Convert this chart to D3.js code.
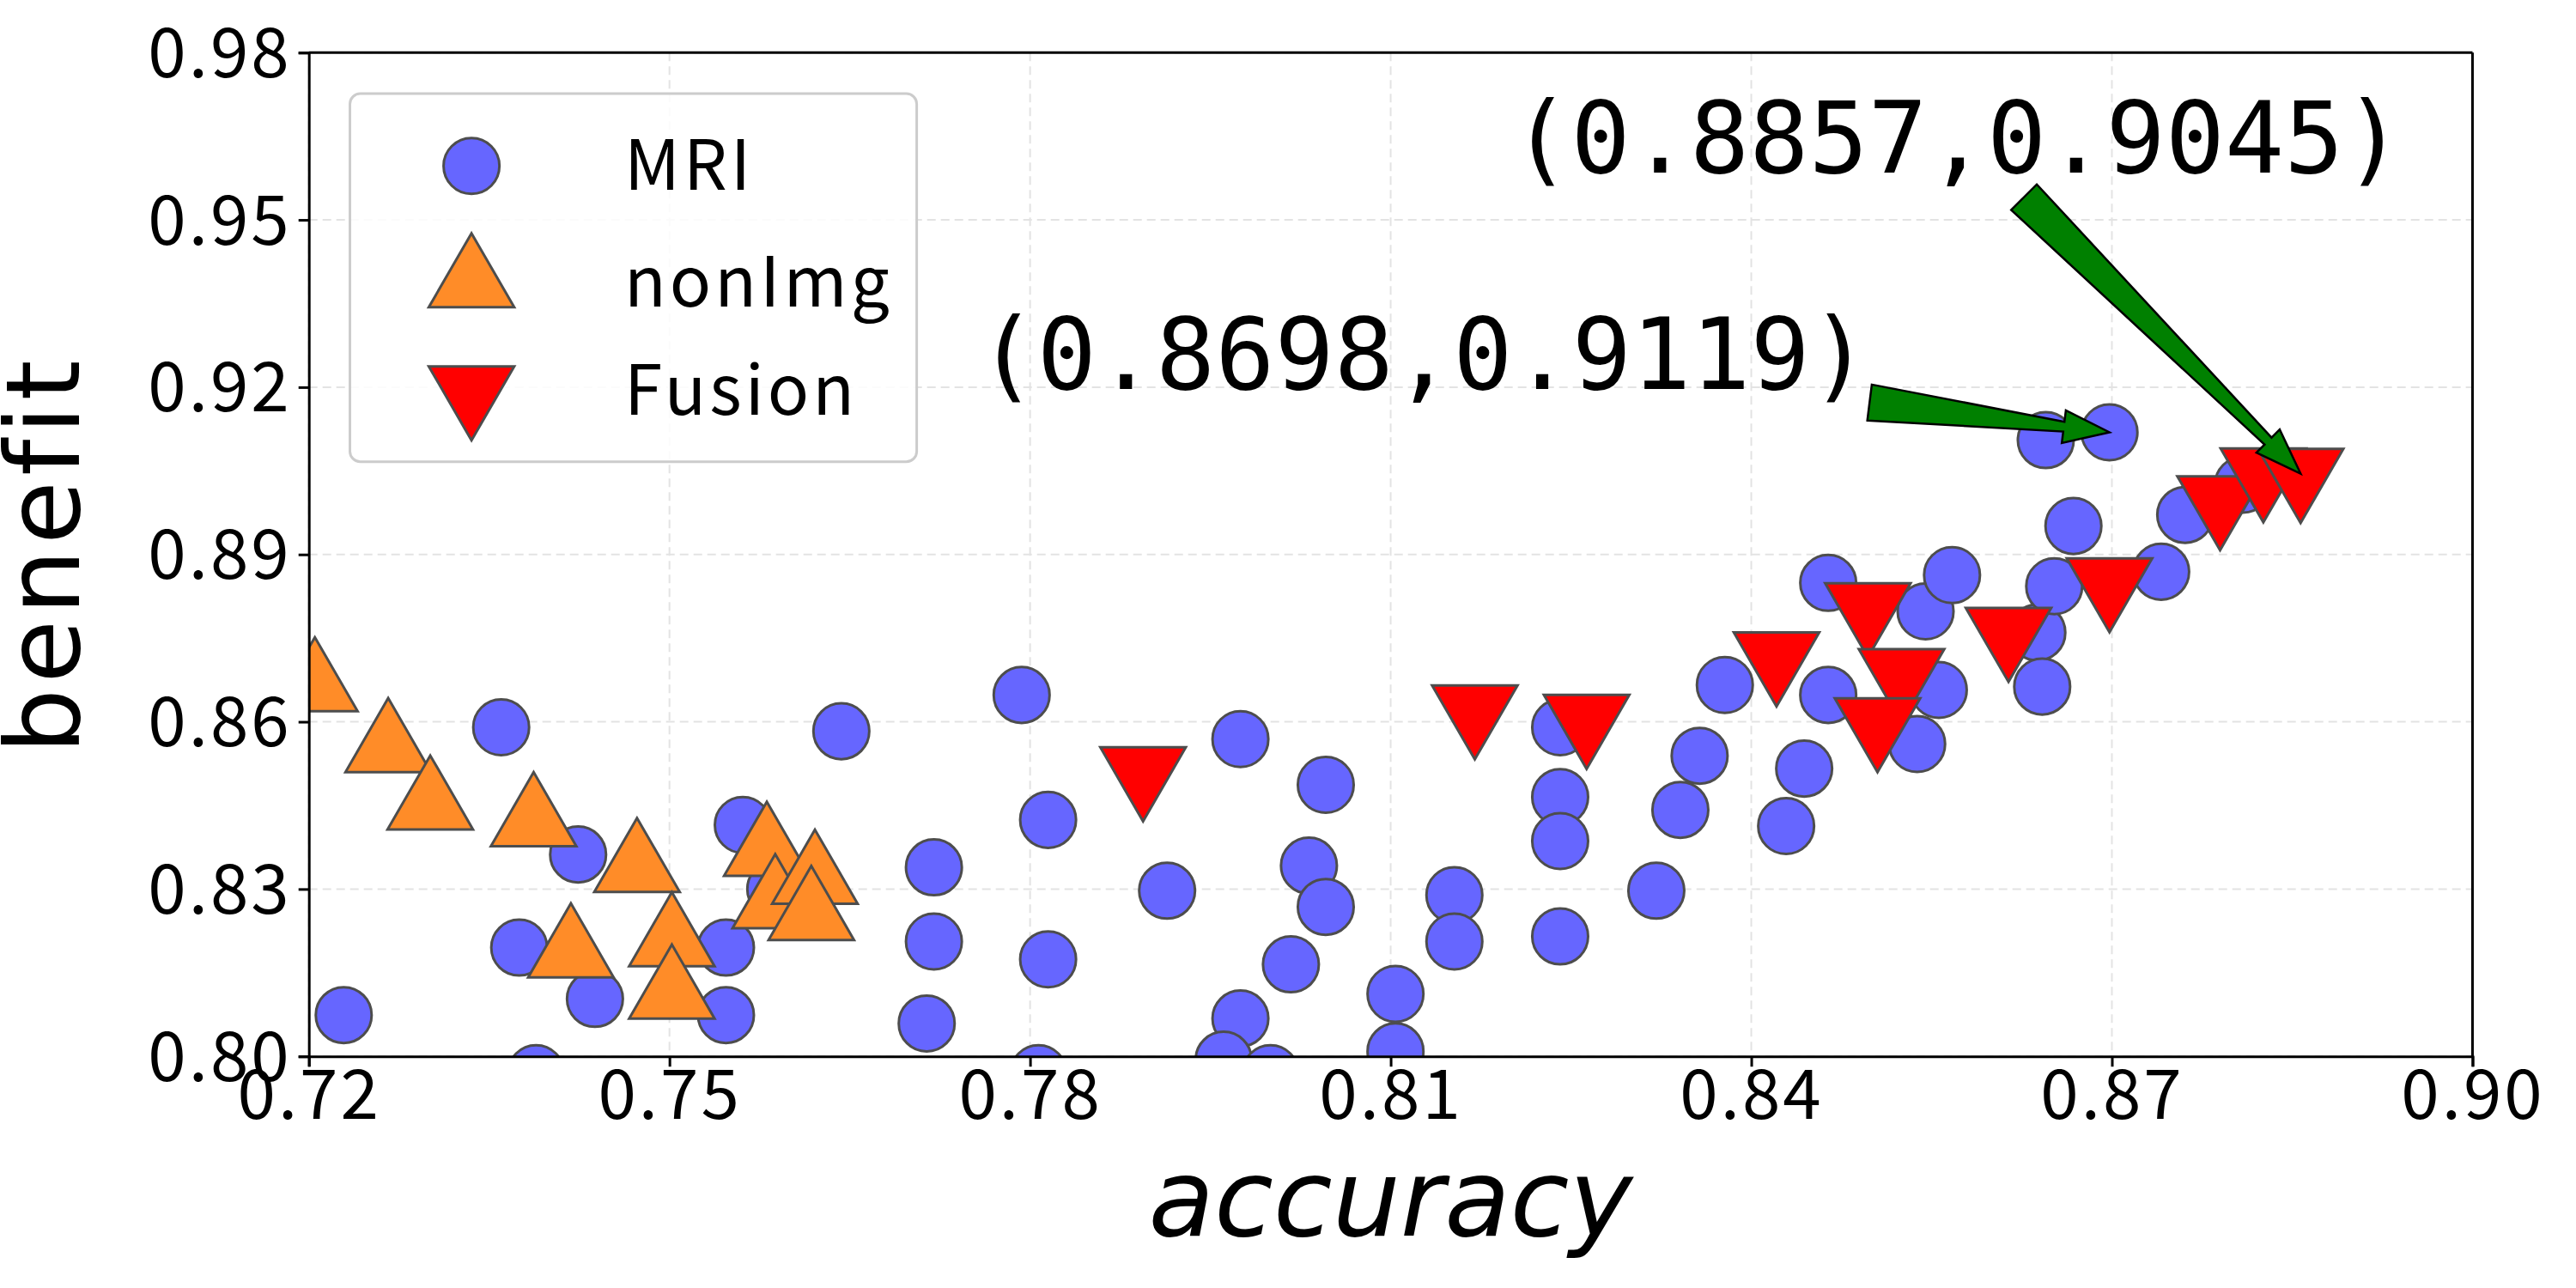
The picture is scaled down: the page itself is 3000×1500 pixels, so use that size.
<!DOCTYPE html>
<html><head><meta charset="utf-8">
<script src="https://cdn.jsdelivr.net/npm/d3@7"></script>
<style>body{margin:0;background:#fff}</style></head>
<body><svg id="c" width="3000" height="1500"></svg>
<script>
const mriX=[0.7229,0.736,0.7375,0.7424,0.7438,0.7389,0.7561,0.7547,0.7547,0.7588,0.7643,0.772,0.772,0.7714,0.7793,0.7815,0.7815,0.7807,0.7914,0.7975,0.7975,0.7961,0.800,0.8017,0.8032,0.8046,0.8046,0.8104,0.8104,0.8153,0.8153,0.8241,0.8241,0.8241,0.8241,0.8321,0.8341,0.8357,0.8378,0.8429,0.8444,0.8464,0.8464,0.8545,0.8556,0.8538,0.8567,0.8638,0.8642,0.8652,0.8668,0.8645,0.8698,0.8741,0.8761,0.8809];
const mriY=[0.8074,0.859,0.8195,0.8362,0.8103,0.797,0.8415,0.8195,0.8074,0.830,0.8583,0.8339,0.8206,0.8059,0.8648,0.8424,0.8174,0.797,0.8297,0.8569,0.8068,0.7994,0.797,0.8165,0.8342,0.8487,0.8268,0.8112,0.8009,0.8289,0.8206,0.859,0.8465,0.8386,0.8215,0.8297,0.8442,0.8539,0.8666,0.8413,0.8516,0.8648,0.8849,0.8798,0.8657,0.856,0.8863,0.876,0.8663,0.8843,0.8951,0.9105,0.9119,0.8869,0.8971,0.9025];
const nonX=[0.7205,0.7266,0.7301,0.7387,0.7473,0.7418,0.7502,0.7502,0.7581,0.7588,0.7621,0.7618];
const nonY=[0.8663,0.8554,0.8451,0.8421,0.8339,0.8186,0.8206,0.8112,0.8368,0.8274,0.8318,0.8253];
const fusX=[0.7894,0.8170,0.8263,0.8421,0.8497,0.8525,0.8505,0.8614,0.8698,0.879,0.8826,0.8857];
const fusY=[0.851,0.8621,0.8604,0.8716,0.8804,0.8686,0.8598,0.876,0.8849,0.8996,0.9046,0.9045];
const xTicks=[0.72,0.75,0.78,0.81,0.84,0.87,0.90];
const yTicks=[0.80,0.83,0.86,0.89,0.92,0.95,0.98];
const legendLabels=["MRI","nonImg","Fusion"];

const S=3000/1568;
const svg=d3.select("#c");
const L=188*S,R=1505*S,T=32*S,B=643*S;
const x=d3.scaleLinear().domain([0.72,0.90]).range([L,R]);
const y=d3.scaleLinear().domain([0.80,0.98]).range([B,T]);
const tickFont="'Noto Sans CJK SC', sans-serif";
const g=svg.append("g");
xTicks.forEach(t=>g.append("line").attr("x1",x(t)).attr("x2",x(t)).attr("y1",T).attr("y2",B).attr("stroke","#e3e3e3").attr("stroke-width",2).attr("stroke-dasharray","10,6"));
yTicks.forEach(t=>g.append("line").attr("y1",y(t)).attr("y2",y(t)).attr("x1",L).attr("x2",R).attr("stroke","#e3e3e3").attr("stroke-width",2).attr("stroke-dasharray","10,6"));
svg.append("defs").append("clipPath").attr("id","cp").append("rect").attr("x",L).attr("y",T).attr("width",R-L).attr("height",B-T);
const pg=svg.append("g").attr("clip-path","url(#cp)");
const r=17*S, th=52*S;
const tri=d3.symbol().type(d3.symbolTriangle).size(th*th*0.433);
mriX.forEach((v,i)=>pg.append("circle").attr("cx",x(v)).attr("cy",y(mriY[i])).attr("r",r).attr("fill","#6666ff").attr("stroke","#4d4d4d").attr("stroke-width",3));
nonX.forEach((v,i)=>pg.append("path").attr("d",tri).attr("transform",`translate(${x(v)},${y(nonY[i])})`).attr("fill","#ff8c28").attr("stroke","#4d4d4d").attr("stroke-width",3));
fusX.forEach((v,i)=>pg.append("path").attr("d",tri).attr("transform",`translate(${x(v)},${y(fusY[i])}) rotate(180)`).attr("fill","#ff0000").attr("stroke","#4d4d4d").attr("stroke-width",3));
const fmt=d3.format(".2f");
const ax=svg.append("g").attr("transform",`translate(0,${B})`).call(d3.axisBottom(x).tickValues(xTicks).tickFormat(fmt).tickSize(12).tickPadding(4));
const ay=svg.append("g").attr("transform",`translate(${L},0)`).call(d3.axisLeft(y).tickValues(yTicks).tickFormat(fmt).tickSize(12).tickPadding(8));
[ax,ay].forEach(a=>{a.selectAll("text").attr("font-family",tickFont).attr("font-size",80).attr("letter-spacing","3px").attr("fill","#000");a.selectAll("path,line").attr("stroke","#000").attr("stroke-width",3);});
ay.selectAll("text").attr("dy","0.35em");
svg.append("line").attr("x1",L).attr("x2",R).attr("y1",T).attr("y2",T).attr("stroke","#000").attr("stroke-width",3);
svg.append("line").attr("x1",R).attr("x2",R).attr("y1",T).attr("y2",B).attr("stroke","#000").attr("stroke-width",3);
svg.append("text").attr("x",(L+R)/2).attr("y",752*S).attr("text-anchor","middle").attr("font-family","'DejaVu Sans', sans-serif").attr("font-style","italic").attr("font-size",125).text("accuracy");
svg.append("text").attr("transform",`translate(${48*S},${(T+B)/2}) rotate(-90)`).attr("text-anchor","middle").attr("font-family","'DejaVu Sans', sans-serif").attr("font-size",120).attr("letter-spacing","6px").text("benefit");
const lg=svg.append("g");
lg.append("rect").attr("x",213*S).attr("y",57*S).attr("width",345*S).attr("height",224*S).attr("rx",12).attr("fill","#fff").attr("fill-opacity",0.85).attr("stroke","#cccccc").attr("stroke-width",3);
const ly=[101,172,238].map(v=>v*S);
lg.append("circle").attr("cx",287*S).attr("cy",ly[0]).attr("r",r).attr("fill","#6666ff").attr("stroke","#4d4d4d").attr("stroke-width",3);
lg.append("path").attr("d",tri).attr("transform",`translate(${287*S},${ly[1]})`).attr("fill","#ff8c28").attr("stroke","#4d4d4d").attr("stroke-width",3);
lg.append("path").attr("d",tri).attr("transform",`translate(${287*S},${ly[2]}) rotate(180)`).attr("fill","#ff0000").attr("stroke","#4d4d4d").attr("stroke-width",3);
legendLabels.forEach((t,i)=>lg.append("text").attr("x",380*S).attr("y",ly[i]).attr("dy","0.35em").attr("font-family",tickFont).attr("font-size",80).attr("letter-spacing","4px").text(t));
function arrow(x0,y0,x1,y1){
  const dx=x1-x0,dy=y1-y0,len=Math.hypot(dx,dy),ux=dx/len,uy=dy/len,px=-uy,py=ux;
  const hl=28*S,tw=11*S,nw=3*S,hw=10*S;
  const bx=x1-ux*hl,by=y1-uy*hl;
  const pts=[[x0+px*tw,y0+py*tw],[bx+px*nw,by+py*nw],[bx+px*hw,by+py*hw],[x1,y1],[bx-px*hw,by-py*hw],[bx-px*nw,by-py*nw],[x0-px*tw,y0-py*tw]];
  svg.append("polygon").attr("points",pts.map(p=>p.join(",")).join(" ")).attr("fill","#008000").attr("stroke","#000").attr("stroke-width",2.5);
}
arrow(1138*S,245*S,x(0.8698),y(0.9119));
arrow(1232*S,120*S,x(0.8857),y(0.9045));
svg.append("text").attr("x",595*S).attr("y",237*S).attr("font-family","'DejaVu Sans Mono', monospace").attr("font-size",115).text("(0.8698,0.9119)");
svg.append("text").attr("x",920*S).attr("y",105*S).attr("font-family","'DejaVu Sans Mono', monospace").attr("font-size",115).text("(0.8857,0.9045)");
</script></body></html>
